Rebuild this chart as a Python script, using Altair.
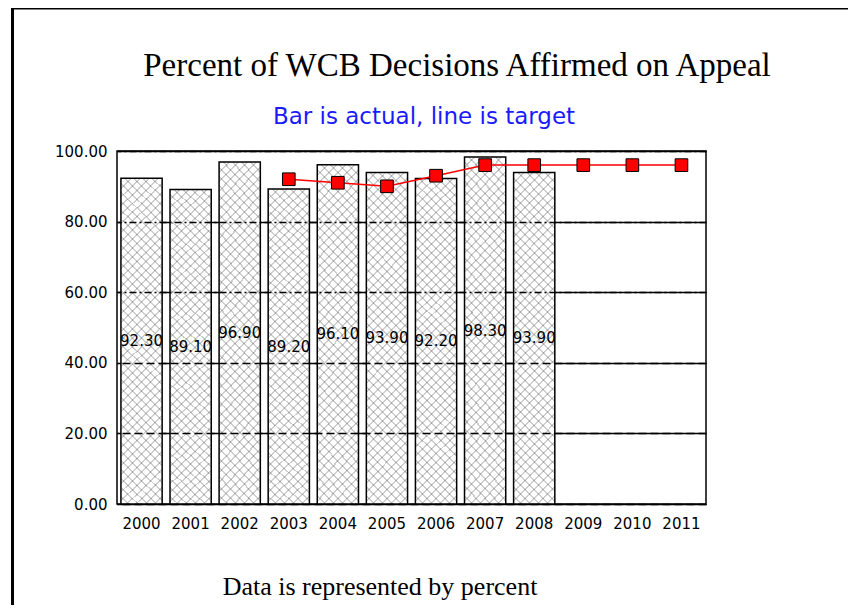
import altair as alt
import pandas as pd

# ---- data ----
years = ["2000", "2001", "2002", "2003", "2004", "2005", "2006", "2007", "2008", "2009", "2010", "2011"]
actual = [92.3, 89.1, 96.9, 89.2, 96.1, 93.9, 92.2, 98.3, 93.9, None, None, None]
target = [None, None, None, 92, 91, 90, 93, 96, 96, 96, 96, 96]
y_ticks = [0, 20, 40, 60, 80, 100]

title_text = "Percent of WCB Decisions Affirmed on Appeal"
subtitle_text = "Bar is actual, line is target"
footer_text = "Data is represented by percent"

df = pd.DataFrame({"year": years, "actual": actual, "target": target})

W, H = 589, 353

# ---- cross-hatch fill built from linear gradients (style only) ----
def hatch(direction, line_color, bg_color, bar_w=41.2, bar_h=330.0, period=9.0, frac=0.22):
    r = bar_h / bar_w
    vx = (1 + r) / (1 + r * r)
    vy = r * vx
    n = int(round((bar_w + bar_h) / period))
    stops = []
    for k in range(n):
        a = k / n
        b = (k + frac) / n
        c = (k + 1) / n
        stops += [
            {"offset": a, "color": line_color},
            {"offset": b, "color": line_color},
            {"offset": b, "color": bg_color},
            {"offset": c, "color": bg_color},
        ]
    if direction == 1:
        x1, y1, x2, y2 = 0, 0, vx, vy
    else:
        x1, y1, x2, y2 = 1, 0, 1 - vx, vy
    return {"gradient": "linear", "stops": stops, "x1": x1, "y1": y1, "x2": x2, "y2": y2}

grad_a = hatch(1, "#cfcfcf", "#ffffff")
grad_b = hatch(2, "rgba(0,0,0,0.19)", "rgba(255,255,255,0)")

label_font = "DejaVu Sans"

x_enc = alt.X(
    "year:N",
    scale=alt.Scale(domain=years, paddingInner=0.16, paddingOuter=0.08),
    axis=alt.Axis(title=None, labelAngle=0, ticks=False, domain=False, grid=False,
                  labelPadding=12, labelFont=label_font, labelFontSize=15, labelColor="black"),
)
y_scale = alt.Scale(domain=[0, 100], nice=False)

axis_main = alt.Axis(title=None, values=y_ticks, format=".2f", ticks=False, domain=False,
                     labelPadding=10, labelFont=label_font, labelFontSize=15, labelColor="black",
                     grid=True, gridColor="black", gridWidth=1.5, gridOpacity=1)
axis_dash = alt.Axis(title=None, values=y_ticks, labels=False, ticks=False, domain=False,
                     grid=True, gridColor="black", gridWidth=1.5, gridOpacity=1, zindex=1,
                     gridDash={"condition": {"test": "datum.value >= 60", "value": [7, 3, 2, 3]},
                               "value": [8, 4]})

base = alt.Chart(df)

bars_a = base.transform_filter("isValid(datum.actual)").mark_bar(fill=grad_a, strokeWidth=0).encode(
    x=x_enc, y=alt.Y("actual:Q", scale=y_scale, axis=axis_main)
)
bars_b = base.transform_filter("isValid(datum.actual)").mark_bar(
    fill=grad_b, stroke="black", strokeWidth=1.5
).encode(x=x_enc, y=alt.Y("actual:Q", scale=y_scale, axis=None))

labels = base.transform_filter("isValid(datum.actual)").transform_calculate(
    half="datum.actual / 2"
).mark_text(font=label_font, fontSize=15, color="black", baseline="middle", align="center").encode(
    x=x_enc, y=alt.Y("half:Q", scale=y_scale, axis=None),
    text=alt.Text("actual:Q", format=".2f"),
)

line = base.transform_filter("isValid(datum.target)").mark_line(color="#ff0000", strokeWidth=1.5).encode(
    x=x_enc, y=alt.Y("target:Q", scale=y_scale, axis=axis_dash)
)
points = base.transform_filter("isValid(datum.target)").mark_point(
    shape="square", filled=True, fill="#ff0000", stroke="black", strokeWidth=1, size=160, opacity=1
).encode(x=x_enc, y=alt.Y("target:Q", scale=y_scale, axis=None))

one = alt.Chart(pd.DataFrame({"a": [0]}))

title_mark = one.mark_text(font="Liberation Serif", fontSize=33, color="black",
                           align="center", baseline="alphabetic").encode(
    x=alt.value(340), y=alt.value(-75), text=alt.value(title_text))
subtitle_mark = one.mark_text(font="DejaVu Sans", fontSize=23, color="#1a1aff",
                              align="center", baseline="alphabetic").encode(
    x=alt.value(307), y=alt.value(-27), text=alt.value(subtitle_text))
footer_mark = one.mark_text(font="Liberation Serif", fontSize=26, color="black",
                            align="center", baseline="alphabetic").encode(
    x=alt.value(263), y=alt.value(444), text=alt.value(footer_text))

frame_top = one.mark_rule(color="black", strokeWidth=3).encode(
    x=alt.value(-106), x2=alt.value(760), y=alt.value(-143))
frame_left = one.mark_rule(color="black", strokeWidth=3).encode(
    x=alt.value(-104.5), y=alt.value(-145), y2=alt.value(470))

chart = alt.layer(
    bars_a, bars_b, labels, line, points,
    title_mark, subtitle_mark, footer_mark, frame_top, frame_left,
).resolve_axis(y="independent").properties(
    width=W, height=H,
    autosize=alt.AutoSizeParams(type="none"),
    padding={"left": 109, "top": 143, "right": 142, "bottom": 101},
    background="white",
).configure_view(stroke="black", strokeWidth=1.5)

chart.save("out.html", embed_options={"renderer": "svg", "actions": False})
